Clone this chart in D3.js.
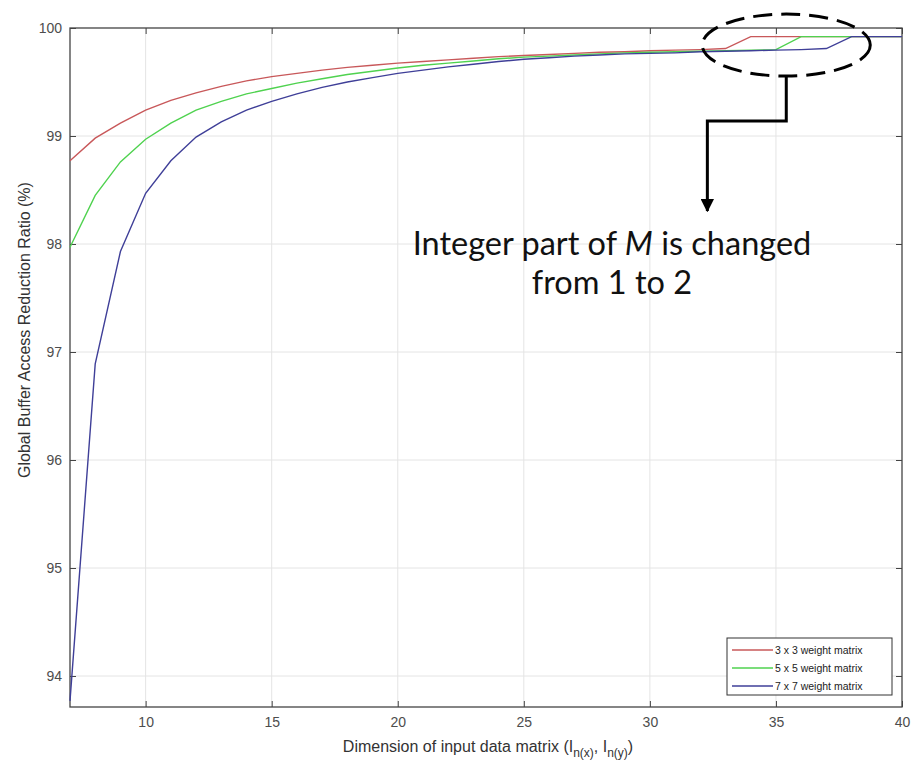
<!DOCTYPE html>
<html>
<head>
<meta charset="utf-8">
<script src="https://cdn.jsdelivr.net/npm/d3@7"></script>
<style>
    body { margin: 0; background: #fff; }
    svg { display: block; }
    .tick text { font-family: "Liberation Sans", Arial, sans-serif; fill: #4d4d4d; }
</style>
</head>
<body>
<div id="chart"></div>
<script>
// Размер входной матрицы
const dims = d3.range(7, 41);

// Значения (%) по каждой кривой
const ratio3x3 = [98.77, 98.98, 99.12, 99.24, 99.33, 99.40, 99.46, 99.51, 99.55, 99.58,
    99.61, 99.635, 99.655, 99.675, 99.69, 99.705, 99.72, 99.735, 99.745, 99.755,
    99.765, 99.775, 99.78, 99.79, 99.795, 99.80, 99.81, 99.92, 99.92, 99.92,
    99.92, 99.92, 99.92, 99.92];
const ratio5x5 = [97.97, 98.45, 98.76, 98.97, 99.12, 99.24, 99.32, 99.39, 99.44, 99.49,
    99.53, 99.57, 99.60, 99.63, 99.655, 99.675, 99.695, 99.715, 99.73, 99.74,
    99.75, 99.76, 99.77, 99.775, 99.78, 99.785, 99.79, 99.795, 99.80, 99.92,
    99.92, 99.92, 99.92, 99.92];
const ratio7x7 = [93.77, 96.89, 97.93, 98.47, 98.77, 98.99, 99.13, 99.24, 99.32, 99.39,
    99.45, 99.50, 99.54, 99.58, 99.61, 99.64, 99.665, 99.69, 99.71, 99.725,
    99.74, 99.75, 99.76, 99.765, 99.77, 99.78, 99.785, 99.79, 99.795, 99.80,
    99.81, 99.92, 99.92, 99.92];

const seriesNames = ["3 x 3 weight matrix", "5 x 5 weight matrix", "7 x 7 weight matrix"];
const seriesColors = ["#c8585a", "#4fd24f", "#3f3f98"];
const xTicks = [10, 15, 20, 25, 30, 35, 40];
const yTicks = [94, 95, 96, 97, 98, 99, 100];

const width = 916, height = 760;
const margin = { top: 28, right: 14, bottom: 53, left: 70 };

const svg = d3.select("#chart").append("svg")
    .attr("width", width)
    .attr("height", height);

const x = d3.scaleLinear().domain([7, 40]).range([margin.left, width - margin.right]);
const y = d3.scaleLinear().domain([93.713, 100]).range([height - margin.bottom, margin.top]);

// Сетка
const grid = svg.append("g").attr("stroke", "#e4e4e4").attr("stroke-width", 1);
grid.selectAll(".gx").data(xTicks.slice(0, -1)).enter().append("line")
    .attr("x1", d => x(d)).attr("x2", d => x(d))
    .attr("y1", y.range()[1]).attr("y2", y.range()[0]);
grid.selectAll(".gy").data(yTicks.slice(0, -1)).enter().append("line")
    .attr("x1", x.range()[0]).attr("x2", x.range()[1])
    .attr("y1", d => y(d)).attr("y2", d => y(d));

// Оси (тики внутрь, как в MATLAB)
const axisColor = "#444";
function styleAxis(g) {
    g.select(".domain").remove();
    g.selectAll(".tick line").attr("stroke", axisColor);
    g.selectAll(".tick text").attr("font-size", "14px");
}
svg.append("g")
    .attr("transform", `translate(0,${y.range()[0]})`)
    .call(d3.axisBottom(x).tickValues(xTicks).tickSize(-6).tickPadding(10).tickFormat(d3.format("d")))
    .call(styleAxis);
svg.append("g")
    .attr("transform", `translate(0,${y.range()[1]})`)
    .call(d3.axisTop(x).tickValues(xTicks).tickSize(-6).tickFormat(""))
    .call(styleAxis);
svg.append("g")
    .attr("transform", `translate(${x.range()[0]},0)`)
    .call(d3.axisLeft(y).tickValues(yTicks).tickSize(-6).tickPadding(8).tickFormat(d3.format("d")))
    .call(styleAxis);
svg.append("g")
    .attr("transform", `translate(${x.range()[1]},0)`)
    .call(d3.axisRight(y).tickValues(yTicks).tickSize(-6).tickFormat(""))
    .call(styleAxis);

svg.append("rect")
    .attr("x", x.range()[0]).attr("y", y.range()[1])
    .attr("width", x.range()[1] - x.range()[0])
    .attr("height", y.range()[0] - y.range()[1])
    .attr("fill", "none").attr("stroke", axisColor).attr("stroke-width", 1.3);

// Кривые
const allSeries = [ratio3x3, ratio5x5, ratio7x7];
const line = d3.line().x((d, i) => x(dims[i])).y(d => y(d));
svg.append("g").selectAll("path")
    .data(allSeries)
    .enter().append("path")
    .attr("d", line)
    .attr("fill", "none")
    .attr("stroke", (d, i) => seriesColors[i])
    .attr("stroke-width", 1.4);

// Подписи осей
svg.append("text")
    .attr("x", 488)
    .attr("y", 752)
    .attr("text-anchor", "middle")
    .attr("font-family", "Liberation Sans, Arial, sans-serif")
    .attr("font-size", "16px")
    .attr("fill", "#333")
    .html('Dimension of input data matrix (I<tspan dy="5" font-size="12px">n(x)</tspan><tspan dy="-5">, I</tspan><tspan dy="5" font-size="12px">n(y)</tspan><tspan dy="-5">)</tspan>');

svg.append("text")
    .attr("transform", "translate(30,330) rotate(-90)")
    .attr("text-anchor", "middle")
    .attr("font-family", "Liberation Sans, Arial, sans-serif")
    .attr("font-size", "16px")
    .attr("fill", "#333")
    .text("Global Buffer Access Reduction Ratio (%)");

// Легенда
const legend = svg.append("g").attr("transform", "translate(727,638)");
legend.append("rect")
    .attr("width", 165).attr("height", 57)
    .attr("fill", "#fff").attr("stroke", "#333").attr("stroke-width", 1);
seriesNames.forEach((name, i) => {
    const ly = 12 + i * 18;
    legend.append("line")
        .attr("x1", 5).attr("x2", 46).attr("y1", ly).attr("y2", ly)
        .attr("stroke", seriesColors[i]).attr("stroke-width", 1.4);
    legend.append("text")
        .attr("x", 48).attr("y", ly + 4)
        .attr("font-family", "Liberation Sans, Arial, sans-serif")
        .attr("font-size", "10.5px")
        .attr("fill", "#222")
        .text(name);
});

// Аннотация: пунктирный эллипс и стрелка
const cx = x(35.41), cy = y(99.86);
svg.append("ellipse")
    .attr("cx", cx).attr("cy", cy + 2).attr("rx", 84).attr("ry", 31)
    .attr("fill", "none").attr("stroke", "#000").attr("stroke-width", 3)
    .attr("stroke-dasharray", "19,9");

svg.append("defs").append("marker")
    .attr("id", "arrow")
    .attr("viewBox", "0 0 10 10")
    .attr("refX", 9).attr("refY", 5)
    .attr("markerWidth", 4.5).attr("markerHeight", 4.5)
    .attr("markerUnits", "strokeWidth")
    .attr("orient", "auto")
    .append("path").attr("d", "M0,0 L10,5 L0,10 Z").attr("fill", "#000");

const bendX = x(32.28);
svg.append("path")
    .attr("d", `M${cx},${cy + 33} V121 H${bendX} V211`)
    .attr("fill", "none").attr("stroke", "#000").attr("stroke-width", 3)
    .attr("marker-end", "url(#arrow)");

const note = svg.append("text")
    .attr("x", 612).attr("y", 255)
    .attr("text-anchor", "middle")
    .attr("font-family", "Lato, 'Open Sans', sans-serif")
    .attr("font-size", "32.5px")
    .attr("fill", "#111");
note.append("tspan").text("Integer part of ");
note.append("tspan").attr("font-style", "italic").text("M");
note.append("tspan").text(" is changed");
svg.append("text")
    .attr("x", 612).attr("y", 294)
    .attr("text-anchor", "middle")
    .attr("font-family", "Lato, 'Open Sans', sans-serif")
    .attr("font-size", "32.5px")
    .attr("fill", "#111")
    .text("from 1 to 2");
</script>
</body>
</html>
